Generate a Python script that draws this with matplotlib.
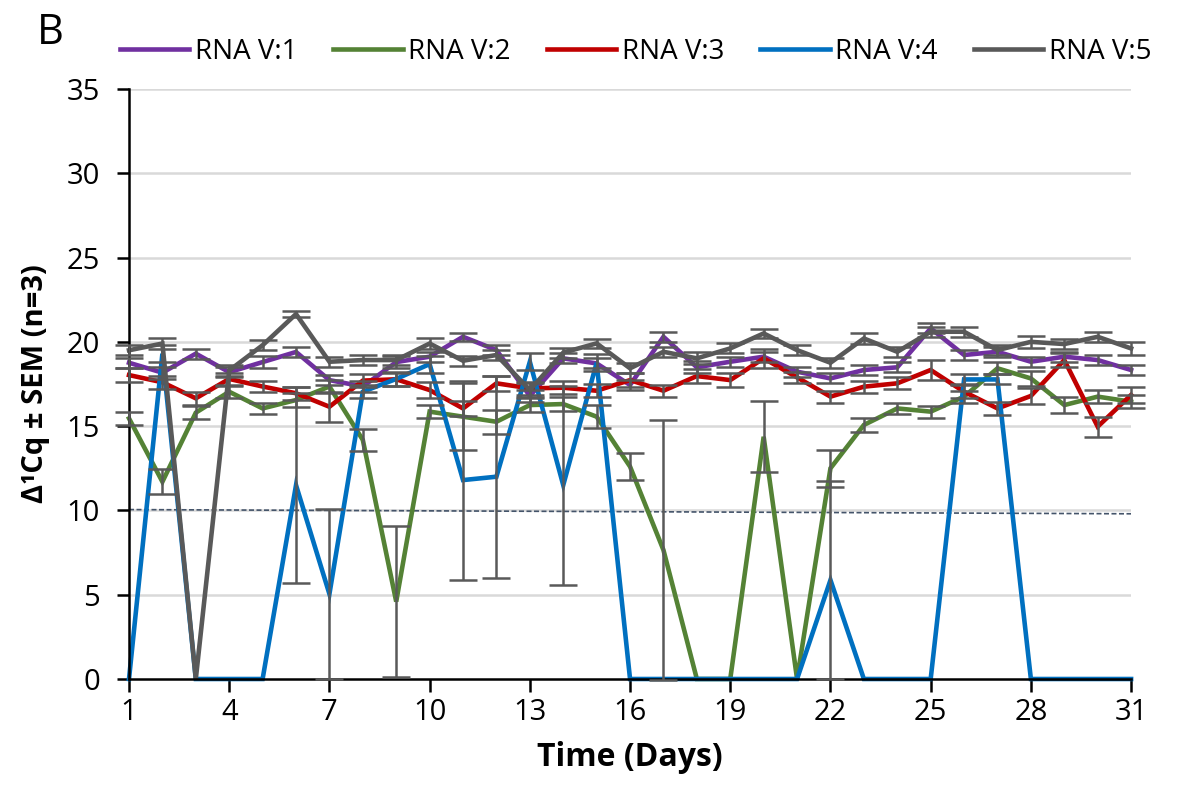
import numpy as np
import matplotlib
matplotlib.use("Agg")
import matplotlib.pyplot as plt

plt.rcParams['font.family'] = ['Open Sans', 'DejaVu Sans']

days = list(range(1, 32))
xticks = list(range(1, 32, 3))

names = ["RNA V:1", "RNA V:2", "RNA V:3", "RNA V:4", "RNA V:5"]
colors = ["#7030A0", "#548235", "#C00000", "#0070C0", "#595959"]

v1 = [18.76, 18.17, 19.3, 18.2, 18.8, 19.4, 17.73, 17.35, 18.8, 19.12,
      20.3, 19.51, 16.79, 19.02, 18.72, 17.44, 20.3, 18.49, 18.82, 19.12,
      18.23, 17.83, 18.33, 18.49, 20.8, 19.22, 19.41, 18.82, 19.12, 18.92, 18.33]
v2 = [15.46, 11.7, 15.8, 17.04, 16.05, 16.55, 17.35, 14.18, 4.59, 15.86,
      15.56, 15.26, 16.25, 16.31, 15.56, 12.6, 7.65, 0, 0, 14.37,
      0, 12.5, 15.07, 16.05, 15.86, 16.75, 18.43, 17.83, 16.25, 16.75, 16.45]
v3 = [18.03, 17.6, 16.65, 17.8, 17.35, 16.95, 16.15, 17.7, 17.78, 17.14,
      16.05, 17.54, 17.24, 17.28, 17.1, 17.73, 17.1, 17.97, 17.73, 19.02,
      17.89, 16.75, 17.34, 17.54, 18.33, 17.04, 16.05, 16.79, 18.92, 14.97, 16.85]
v4 = [0, 19.3, 0, 0, 0, 11.5, 5.04, 17.04, 17.8, 18.68,
      11.8, 12.0, 18.82, 11.5, 18.76, 0, 0, 0, 0, 0,
      0, 5.87, 0, 0, 0, 17.77, 17.77, 0, 0, 0, 0]
v5 = [19.5, 19.9, 0, 18.3, 19.8, 21.65, 18.82, 18.92, 18.92, 19.9,
      18.88, 19.22, 17.14, 19.36, 19.91, 18.43, 19.41, 19.02, 19.61, 20.5,
      19.51, 18.76, 20.2, 19.41, 20.6, 20.6, 19.51, 20.0, 19.87, 20.3, 19.61]

# SEM
e1 = [0.3, 0.35, 0.3, 0.3, 0.35, 0.3, 0.3, 0.3, 0.35, 0.3,
      0.25, 0.3, 0.35, 0.3, 0.3, 0.3, 0.3, 0.35, 0.3, 0.3,
      0.3, 0.3, 0.3, 0.3, 0.3, 0.3, 0.3, 0.3, 0.3, 0.3, 0.3]
e2 = [0.4, 0.75, 0.4, 0.35, 0.35, 0.4, 0.4, 0.65, 4.5, 0.4,
      2.0, 0.7, 0.4, 0.4, 0.7, 0.78, 7.7, 0, 0, 2.1,
      0, 1.1, 0.4, 0.35, 0.35, 0.35, 0.35, 0.45, 0.5, 0.4, 0.4]
e3 = [0.4, 0.4, 0.4, 0.35, 0.35, 0.4, 0.9, 0.4, 0.4, 0.5,
      0.45, 0.45, 0.4, 0.4, 0.4, 0.4, 0.35, 0.4, 0.4, 0.55,
      0.35, 0.35, 0.35, 0.35, 0.6, 0.4, 0.4, 0.5, 0.4, 0.6, 0.45]
e4 = [0, 0.5, 0, 0, 0, 5.8, 5.06, 0.4, 0.4, 0.5,
      5.9, 6.0, 0.5, 5.9, 0.5, 0, 0, 0, 0, 0,
      0, 5.87, 0, 0, 0, 0.3, 0.3, 0, 0, 0, 0]
e5 = [0.3, 0.35, 0, 0.3, 0.3, 0.2, 0.3, 0.3, 0.3, 0.3,
      0.3, 0.3, 0.4, 0.3, 0.25, 0.3, 0.3, 0.35, 0.3, 0.25,
      0.3, 0.3, 0.3, 0.3, 0.3, 0.3, 0.3, 0.35, 0.3, 0.3, 0.4]

threshold = [10.05, 9.8]

values = [v1, v2, v3, v4, v5]
errors = [e1, e2, e3, e4, e5]

fig = plt.figure(figsize=(11.77, 7.91), dpi=100)
ax = fig.add_axes([0.1096, 0.1416, 0.8514, 0.7459])

for y in range(5, 40, 5):
    ax.axhline(y, color="#D9D9D9", lw=1.8, zorder=0)

ax.plot([days[0], days[-1]], threshold, color="#44546A", lw=1.2,
        ls=(0, (3, 1.5)), zorder=1)

for name, c, v in zip(names, colors, values):
    ax.plot(days, v, color=c, lw=3.3, label=name, zorder=2,
            solid_joinstyle="miter", clip_on=False)

for v, e in zip(values, errors):
    v = np.array(v)
    e = np.array(e)
    d = np.array(days)
    m = e > 0
    ax.errorbar(d[m], v[m], yerr=e[m], fmt="none", ecolor="#595959",
                elinewidth=1.8, capsize=10, capthick=1.8, zorder=3, clip_on=False)

ax.set_xlim(1, 31)
ax.set_ylim(0, 35)
ax.set_xticks(xticks)
ax.set_yticks(range(0, 40, 5))
ax.spines["top"].set_visible(False)
ax.spines["right"].set_visible(False)
ax.spines["left"].set_linewidth(1.8)
ax.spines["bottom"].set_linewidth(1.8)
ax.tick_params(axis="both", labelsize=21, length=9, width=1.8)
ax.tick_params(axis="y", pad=12)
ax.tick_params(axis="x", pad=5)

ax.set_xlabel("Time (Days)", fontsize=23, fontweight="bold", labelpad=10)
ax.set_ylabel("Δ¹Cq ± SEM (n=3)", fontsize=21, fontweight="bold", labelpad=12)

fig.text(0.031, 0.958, "B", fontsize=30, va="center")

fig.legend(loc="center", bbox_to_anchor=(0.54, 0.934), ncol=5, frameon=False,
           fontsize=20, handlelength=2.5, handletextpad=0.2, columnspacing=1.3)

fig.savefig("out.png", dpi=100)
